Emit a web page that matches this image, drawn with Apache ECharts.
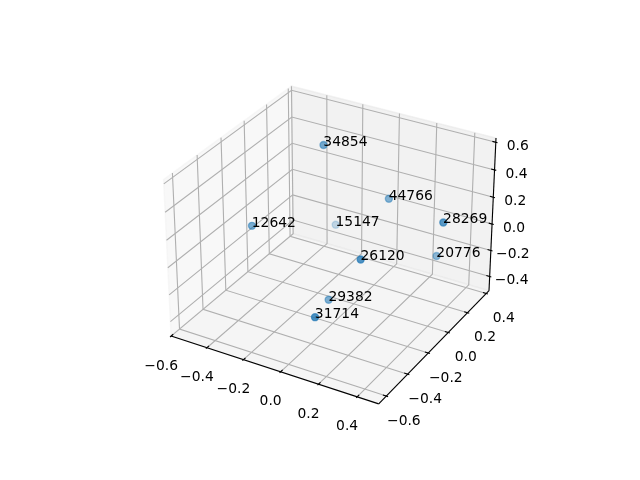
<!DOCTYPE html>
<html><head><meta charset="utf-8">
<style>html,body{margin:0;padding:0;background:#fff}#c{width:640px;height:480px}</style>
<script src="https://cdn.jsdelivr.net/npm/echarts@6/dist/echarts.min.js"></script></head>
<body><div id="c"></div>
<script>
var xTicks=[-0.6,-0.4,-0.2,0,0.2,0.4];
var yTicks=[-0.6,-0.4,-0.2,0,0.2,0.4];
var zTicks=[-0.4,-0.2,0,0.2,0.4,0.6];
var xLim=[-0.6,0.51], yLim=[-0.67,0.43], zLim=[-0.51,0.63];
var pointLabels=['34854','44766','28269','15147','12642','26120','20776','29382','31714'];
var xValues=[-0.158,0.109,0.503,-0.3325,-0.368,0.2654,0.3294,0.006,0.1746];
var yValues=[-0.013,0.136,-0.074,0.40,-0.312,-0.408,0.213,-0.248,-0.655];
var zValues=[0.618,0.231,0.351,-0.3125,0.15,0.226,-0.162,-0.292,-0.043];

function sub(a,b){return [a[0]-b[0],a[1]-b[1],a[2]-b[2]];}
function cross(a,b){return [a[1]*b[2]-a[2]*b[1],a[2]*b[0]-a[0]*b[2],a[0]*b[1]-a[1]*b[0]];}
function dot(a,b){return a[0]*b[0]+a[1]*b[1]+a[2]*b[2];}
function nrm(a){var n=Math.sqrt(dot(a,a));return [a[0]/n,a[1]/n,a[2]/n];}
var k=1.8294640721620434*25/24/Math.sqrt(41), box=[4*k,4*k,3*k], R=[box[0]/2,box[1]/2,box[2]/2], D=10;
var el=30*Math.PI/180, az=-60*Math.PI/180;
var ps=[Math.cos(el)*Math.cos(az),Math.cos(el)*Math.sin(az),Math.sin(el)];
var eye=[R[0]+D*ps[0],R[1]+D*ps[1],R[2]+D*ps[2]];
var w=nrm(sub(eye,R)), u=nrm(cross([0,0,1],w)), v=cross(w,u);
var S=369.6/0.185;
function boxOf(p){return [(p[0]-xLim[0])/(xLim[1]-xLim[0])*box[0],(p[1]-yLim[0])/(yLim[1]-yLim[0])*box[1],(p[2]-zLim[0])/(zLim[1]-zLim[0])*box[2]];}
function depth(p){return -dot(w,sub(boxOf(p),eye));}
function proj(p){
  var d=sub(boxOf(p),eye), t=-dot(w,d);
  return [143.2+(dot(u,d)/t+0.095)*S, 427.2-(dot(v,d)/t+0.095)*S];
}
var x0=xLim[0],x1=xLim[1],y0=yLim[0],y1=yLim[1],z0=zLim[0],z1=zLim[1];
var panes=[
 {c:'rgba(242,242,242,0.5)',p:[[x0,y0,z0],[x0,y1,z0],[x0,y1,z1],[x0,y0,z1]]},
 {c:'rgba(230,230,230,0.5)',p:[[x0,y1,z0],[x1,y1,z0],[x1,y1,z1],[x0,y1,z1]]},
 {c:'rgba(236,236,236,0.5)',p:[[x0,y0,z0],[x1,y0,z0],[x1,y1,z0],[x0,y1,z0]]}
];
var gridLines=[];
xTicks.forEach(function(t){gridLines.push({coords:[[t,y0,z0],[t,y1,z0],[t,y1,z1]].map(proj)});});
yTicks.forEach(function(t){gridLines.push({coords:[[x1,t,z0],[x0,t,z0],[x0,t,z1]].map(proj)});});
zTicks.forEach(function(t){gridLines.push({coords:[[x0,y0,t],[x0,y1,t],[x1,y1,t]].map(proj)});});
var axisLines=[[[x0,y0,z0],[x1,y0,z0]],[[x1,y0,z0],[x1,y1,z0]],[[x1,y1,z0],[x1,y1,z1]]].map(function(s){return {coords:s.map(proj)};});
var dx=(x1-x0)*0.08, dy=(y1-y0)*0.08;
var tickMarks=[];
xTicks.forEach(function(t){tickMarks.push({coords:[[t,y0-0.1*dy,z0],[t,y0+0.2*dy,z0]].map(proj)});});
yTicks.forEach(function(t){tickMarks.push({coords:[[x1+0.1*dx,t,z0],[x1-0.2*dx,t,z0]].map(proj)});});
zTicks.forEach(function(t){tickMarks.push({coords:[[x1+0.1*dx,y1,t],[x1-0.2*dx,y1,t]].map(proj)});});
function fmt(t){return t.toFixed(1).replace('-','\u2212');}
function tickLabels(ticks,f,ox,oy){return ticks.map(function(t){var q=proj(f(t));return {value:[q[0]+ox,q[1]+oy],name:fmt(t)};});}
var labelData=[].concat(
 tickLabels(xTicks,function(t){return [t,y0,z0];},-10,30),
 tickLabels(yTicks,function(t){return [x1,t,z0];},17.5,25),
 tickLabels(zTicks,function(t){return [x1,y1,t];},22,4));
var ds=xValues.map(function(x,i){return depth([x,yValues[i],zValues[i]]);});
var dmin=Math.min.apply(null,ds), dmax=Math.max.apply(null,ds);
var pointData=xValues.map(function(x,i){
  var a=1-0.7*(ds[i]-dmin)/(dmax-dmin);
  return {value:proj([x,yValues[i],zValues[i]]),name:pointLabels[i],itemStyle:{color:'rgba(31,119,180,'+a.toFixed(3)+')',borderColor:'rgba(31,119,180,'+(a*0.85).toFixed(3)+')',borderWidth:1.39}};
});
var font='"DejaVu Sans"';
var chart=echarts.init(document.getElementById('c'),null,{renderer:'canvas'});
chart.setOption({animation:false,
 xAxis:{show:false,type:'value',min:0,max:640},
 yAxis:{show:false,type:'value',min:0,max:480,inverse:true},
 grid:{left:0,right:0,top:0,bottom:0},
 series:[
  {type:'custom',coordinateSystem:'cartesian2d',silent:true,clip:false,data:[0,1,2],z:1,
   renderItem:function(params,api){var P=panes[params.dataIndex];
     return {type:'polygon',shape:{points:P.p.map(function(q){return api.coord(proj(q));})},
       style:{fill:P.c,stroke:P.c,lineWidth:1.39}};}},
  {type:'lines',coordinateSystem:'cartesian2d',polyline:true,silent:true,z:2,data:gridLines,lineStyle:{color:'#b0b0b0',width:1.11,opacity:1}},
  {type:'lines',coordinateSystem:'cartesian2d',polyline:false,silent:true,z:3,data:axisLines,lineStyle:{color:'#000',width:1.11,opacity:1}},
  {type:'lines',coordinateSystem:'cartesian2d',polyline:false,silent:true,z:3,data:tickMarks,lineStyle:{color:'#000',width:1.11,opacity:1}},
  {type:'scatter',silent:true,z:4,symbol:'circle',symbolSize:7,data:pointData,
   label:{show:true,position:[0,0],offset:[4,1.5],align:'left',verticalAlign:'middle',formatter:'{b}',fontFamily:font,fontSize:13.89,color:'#000',opacity:1,textBorderWidth:0}},
  {type:'scatter',silent:true,z:3,symbolSize:1,data:labelData,itemStyle:{color:'rgba(0,0,0,0)'},
   label:{show:true,position:'inside',align:'center',verticalAlign:'middle',formatter:'{b}',fontFamily:font,fontSize:13.89,color:'#000',opacity:1,textBorderWidth:0}}
 ]});
</script></body></html>
